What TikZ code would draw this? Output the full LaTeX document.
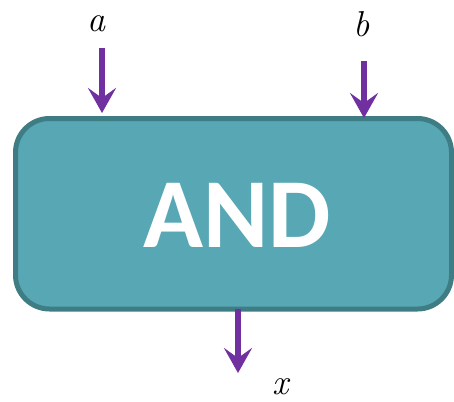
\documentclass[tikz,border=0pt]{standalone}
\usepackage{fontspec}
\newfontfamily\gatefont{Carlito}
\usetikzlibrary{arrows.meta}
\definecolor{gatefill}{HTML}{58A7B4}
\definecolor{gateedge}{HTML}{3F7D84}
\definecolor{sigpurple}{HTML}{7030A0}
\begin{document}
\begin{tikzpicture}[x=1pt,y=-1pt,
  gatebox/.style={draw=gateedge, fill=gatefill, line width=5pt, rounded corners=34pt,
    minimum width=436pt, minimum height=190.5pt, inner sep=0pt, outer sep=0pt},
  sig/.style={draw=sigpurple, line width=6pt,
    -{Stealth[length=25pt,width=28pt,inset=10pt,fill=sigpurple]}},
  lbl/.style={inner sep=0pt, font=\itshape\fontsize{36}{38}\selectfont}]
\useasboundingbox (0,0) rectangle (454,401);
\node[gatebox] (gate) at (233.5,213.75) {};
\node[text=white, inner sep=0pt, font=\gatefont\bfseries\fontsize{99}{100}\selectfont] (gatetext) at (237.5,215) {AND};
\node[lbl, anchor=base] (la) at (96,32) {a};
\node[lbl, anchor=base] (lb) at (362,37) {b};
\node[lbl, anchor=base] (lx) at (281,394) {x};
\coordinate (ain) at (102,48);
\coordinate (bin) at (364,61);
\coordinate (xout) at (238,373);
\draw[sig] (ain) -- ([yshift=5.5pt]ain |- gate.north);
\draw[sig] (bin) -- ([yshift=0.5pt]bin |- gate.north);
\draw[sig] (xout |- gate.south) -- (xout);
\end{tikzpicture}
\end{document}
